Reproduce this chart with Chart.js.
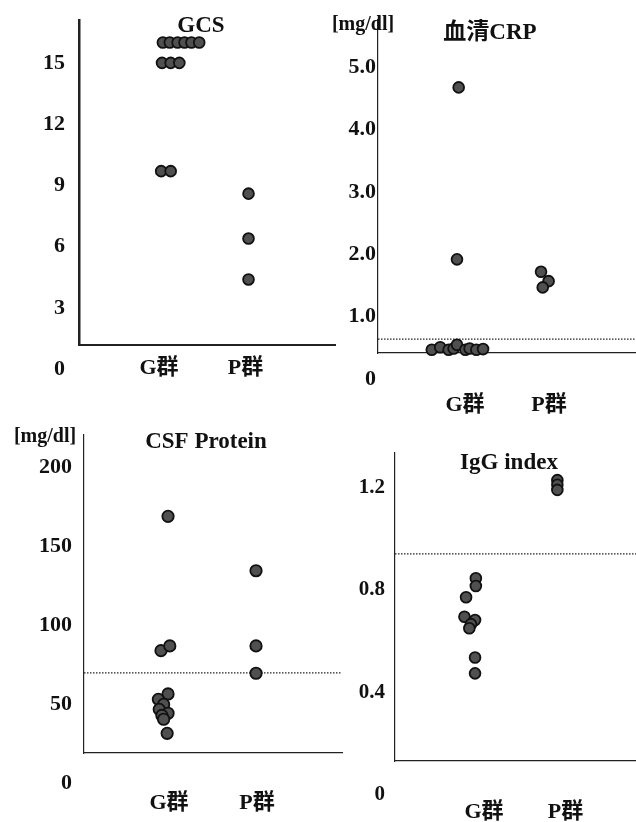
<!DOCTYPE html>
<html>
<head>
<meta charset="utf-8">
<script src="https://cdn.jsdelivr.net/npm/chart.js@4.4.1/dist/chart.umd.min.js"></script>
<style>
  html, body { margin: 0; padding: 0; background: #fff; }
  #wrap { position: relative; width: 636px; height: 822px; }
  canvas { position: absolute; left: 0; top: 0; }
</style>
</head>
<body>
<div id="wrap">
  <canvas id="gcs" width="636" height="822"></canvas>
  <canvas id="crp" width="636" height="822"></canvas>
  <canvas id="csf" width="636" height="822"></canvas>
  <canvas id="igg" width="636" height="822"></canvas>
</div>
<script>
// group positions on the x axis
const groupTicks = [1, 2];
const groupLabels = ['G群', 'P群'];

// GCS
const gcsTicks = [0, 3, 6, 9, 12, 15];
const gcsTickLabels = ['0', '3', '6', '9', '12', '15'];
const gcsGx = [1.01, 1.09, 1.18, 1.26, 1.34, 1.43, 1.00, 1.10, 1.20, 0.99, 1.10];
const gcsGy = [16.0, 16.0, 16.0, 16.0, 16.0, 16.0, 15.0, 15.0, 15.0, 9.7, 9.7];
const gcsPx = [2, 2, 2];
const gcsPy = [8.6, 6.4, 4.4];

// serum CRP (mg/dl)
const crpTicks = [0, 1, 2, 3, 4, 5];
const crpTickLabels = ['0', '1.0', '2.0', '3.0', '4.0', '5.0'];
const crpGx = [1.02, 1.00, 0.70, 0.80, 0.90, 0.96, 1.00, 1.10, 1.15, 1.23, 1.31];
const crpGy = [4.68, 1.92, 0.47, 0.51, 0.47, 0.49, 0.55, 0.47, 0.49, 0.47, 0.48];
const crpPx = [2.00, 2.09, 2.02];
const crpPy = [1.72, 1.57, 1.47];
const crpRef = 0.64;

// CSF protein (mg/dl)
const csfTicks = [0, 50, 100, 150, 200];
const csfTickLabels = ['0', '50', '100', '150', '200'];
const csfGx = [1.00, 0.92, 1.02, 1.00, 0.89, 0.95, 0.90, 1.00, 0.93, 0.95, 0.99];
const csfGy = [169, 84, 87, 56.6, 53.2, 50, 46.9, 44.4, 43, 40.6, 31.7];
const csfPx = [2, 2, 2];
const csfPy = [134.6, 87, 69.7];
const csfRef = 70;

// IgG index
const iggTicks = [0, 0.4, 0.8, 1.2];
const iggTickLabels = ['0', '0.4', '0.8', '1.2'];
const iggGx = [1.01, 1.01, 0.89, 0.87, 1.00, 0.95, 0.93, 1.00, 1.00];
const iggGy = [0.845, 0.815, 0.771, 0.695, 0.682, 0.666, 0.65, 0.536, 0.474];
const iggPx = [2.01, 2.01, 2.01];
const iggPy = [1.228, 1.21, 1.19];
const iggRef = 0.94;

const FONT = "'Liberation Serif', 'Noto Sans CJK JP', serif";
const Y_W = 70;   // fixed width of the y axis box
const X_H = 61;   // fixed height of the x axis box

Chart.defaults.font.family = FONT;
Chart.defaults.color = '#111';

function pts(xs, ys) {
    return xs.map((x, i) => ({ x: x, y: ys[i] }));
}

function makePanel(id, p) {
    const dot = {
        pointRadius: p.radius || 5.4,
        pointBorderWidth: 1.8,
        pointBackgroundColor: '#505050',
        pointBorderColor: '#111',
        clip: false,
        order: 0
    };
    const datasets = [
        Object.assign({ data: pts(p.gx, p.gy) }, dot),
        Object.assign({ data: pts(p.px, p.py) }, dot)
    ];
    if (p.ref !== undefined) {
        datasets.push({
            type: 'line',
            data: [{ x: p.xMin, y: p.ref }, { x: p.xMax, y: p.ref }],
            borderColor: '#222',
            borderWidth: 1.3,
            borderDash: [1.5, 1.5],
            pointRadius: 0,
            clip: false,
            order: 1
        });
    }

    const textPlugin = {
        id: 'panelText',
        afterDraw(chart) {
            const ctx = chart.ctx;
            ctx.save();
            ctx.fillStyle = '#111';
            ctx.textAlign = 'center';
            ctx.textBaseline = 'middle';
            p.texts.forEach(t => {
                ctx.font = 'bold ' + t.size + 'px ' + FONT;
                ctx.fillText(t.text, t.x, t.y);
            });
            ctx.restore();
        }
    };

    new Chart(document.getElementById(id), {
        type: 'scatter',
        data: { datasets: datasets },
        options: {
            responsive: false,
            animation: false,
            events: [],
            layout: {
                autoPadding: false,
                padding: {
                    left: p.area.left - Y_W,
                    top: p.area.top,
                    right: 636 - p.area.right,
                    bottom: 822 - p.area.bottom - X_H
                }
            },
            plugins: {
                legend: { display: false },
                tooltip: { enabled: false }
            },
            scales: {
                x: {
                    type: 'linear',
                    min: p.xMin,
                    max: p.xMax,
                    afterBuildTicks: s => { s.ticks = groupTicks.map(v => ({ value: v })); },
                    afterFit: s => { s.height = X_H; s.paddingLeft = 0; s.paddingRight = 0; },
                    ticks: {
                        autoSkip: false,
                        maxRotation: 0,
                        padding: p.xPad,
                        labelOffset: p.xOffset,
                        font: { size: 22, weight: 'bold' },
                        color: '#111',
                        callback: (v, i) => groupLabels[i]
                    },
                    grid: { display: false, drawTicks: false },
                    border: { color: '#222', width: p.xBorder }
                },
                y: {
                    type: 'linear',
                    min: p.yMin,
                    max: p.yMax,
                    afterBuildTicks: s => { s.ticks = p.yTicks.map(v => ({ value: v })); },
                    afterFit: s => { s.width = Y_W; s.paddingTop = 0; s.paddingBottom = 0; },
                    ticks: {
                        autoSkip: false,
                        padding: p.yPad,
                        font: { size: p.yFont || 22, weight: 'bold' },
                        color: '#111',
                        callback: (v, i) => p.yLabels[i]
                    },
                    grid: { display: false, drawTicks: false },
                    border: { color: '#222', width: p.yBorder }
                }
            }
        },
        plugins: [textPlugin]
    });
}

makePanel('gcs', {
    gx: gcsGx, gy: gcsGy, px: gcsPx, py: gcsPy,
    area: { left: 79, top: 20, right: 335, bottom: 345 },
    xMin: 0.04, xMax: 3.0, xPad: 10, xOffset: -3,
    yMin: 1.19, yMax: 17.1, yTicks: gcsTicks, yLabels: gcsTickLabels, yPad: 14,
    xBorder: 2, yBorder: 2.5,
    texts: [{ text: 'GCS', x: 201, y: 26, size: 23 }]
});

makePanel('crp', {
    gx: crpGx, gy: crpGy, px: crpPx, py: crpPy, ref: crpRef,
    area: { left: 378, top: 20, right: 636, bottom: 353 },
    xMin: 0.06, xMax: 3.13, xPad: 39, xOffset: 8,
    yMin: 0.417, yMax: 5.762, yTicks: crpTicks, yLabels: crpTickLabels, yPad: 2,
    xBorder: 1.2, yBorder: 1.2,
    texts: [
        { text: '[mg/dl]', x: 363, y: 25, size: 20 },
        { text: '血清CRP', x: 490, y: 33, size: 23 }
    ]
});

makePanel('csf', {
    gx: csfGx, gy: csfGy, px: csfPx, py: csfPy, ref: csfRef, radius: 5.7,
    area: { left: 84, top: 435, right: 342, bottom: 753 },
    xMin: 0.045, xMax: 2.977, xPad: 37, xOffset: 1,
    yMin: 19.24, yMax: 220.5, yTicks: csfTicks, yLabels: csfTickLabels, yPad: 12,
    xBorder: 1.2, yBorder: 1.2,
    texts: [
        { text: '[mg/dl]', x: 45, y: 437, size: 20 },
        { text: 'CSF Protein', x: 206, y: 442, size: 23 }
    ]
});

makePanel('igg', {
    gx: iggGx, gy: iggGy, px: iggPx, py: iggPy, ref: iggRef,
    area: { left: 395, top: 453, right: 636, bottom: 761 },
    xMin: 0.018, xMax: 2.975, xPad: 38, xOffset: 9,
    yMin: 0.132, yMax: 1.334, yTicks: iggTicks, yLabels: iggTickLabels, yPad: 10, yFont: 21,
    xBorder: 1.2, yBorder: 1.2,
    texts: [{ text: 'IgG index', x: 509, y: 463, size: 23 }]
});
</script>
</body>
</html>
